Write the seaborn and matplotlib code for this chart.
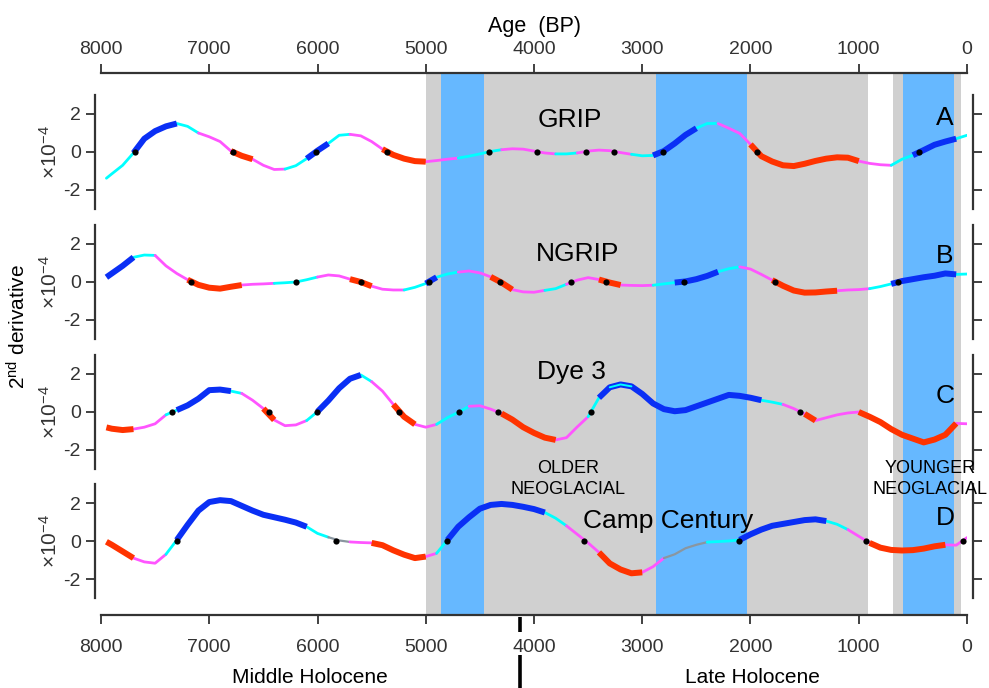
import pandas as pd
import seaborn as sns
import matplotlib.pyplot as plt
from matplotlib.transforms import ScaledTranslation

# sampling grid (years BP) shared by the four records
AGE = [7950] + list(range(7900, -1, -100))

GRIP = [-1.38, -1.15, -0.7, -0.05, 0.7, 1.1, 1.35, 1.5, 1.35, 1.0,
        0.8, 0.55, 0.05, -0.2, -0.38, -0.7, -0.92, -0.9, -0.72, -0.35,
        0.07, 0.45, 0.88, 0.93, 0.85, 0.55, 0.15, -0.15, -0.35, -0.48,
        -0.51, -0.45, -0.38, -0.32, -0.22, -0.1, 0.03, 0.12, 0.17, 0.15,
        0.05, -0.05, -0.1, -0.1, -0.05, 0.05, 0.1, 0.07, -0.03, -0.12,
        -0.2, -0.18, 0.05, 0.45, 0.9, 1.25, 1.5, 1.5, 1.25, 0.98,
        0.4, -0.22, -0.5, -0.7, -0.74, -0.62, -0.47, -0.35, -0.28, -0.3,
        -0.48, -0.6, -0.67, -0.7, -0.38, -0.17, 0.1, 0.38, 0.55, 0.7,
        0.88]
NGRIP = [0.25, 0.45, 0.85, 1.3, 1.42, 1.4, 0.85, 0.45, 0.12, -0.15,
         -0.3, -0.35, -0.25, -0.16, -0.12, -0.1, -0.07, -0.04, 0.0, 0.12,
         0.26, 0.37, 0.32, 0.15, 0.0, -0.22, -0.38, -0.42, -0.42, -0.28,
         -0.08, 0.25, 0.42, 0.52, 0.58, 0.48, 0.27, -0.03, -0.4, -0.52,
         -0.54, -0.44, -0.35, -0.12, 0.1, 0.23, 0.13, -0.03, -0.16, -0.18,
         -0.19, -0.17, -0.1, -0.03, 0.03, 0.15, 0.32, 0.54, 0.7, 0.8,
         0.68, 0.4, 0.1, -0.2, -0.45, -0.56, -0.55, -0.5, -0.46, -0.42,
         -0.4, -0.35, -0.24, -0.1, 0.05, 0.15, 0.25, 0.33, 0.45, 0.4,
         0.42]
DYE3 = [-0.81, -0.88, -0.95, -0.9, -0.8, -0.62, -0.15, 0.1, 0.35, 0.7,
        1.15, 1.18, 1.1, 0.98, 0.62, 0.18, -0.42, -0.72, -0.68, -0.45,
        0.02, 0.6, 1.25, 1.75, 1.95, 1.6, 1.1, 0.4, -0.25, -0.65,
        -0.8, -0.65, -0.3, -0.02, 0.3, 0.33, 0.15, -0.08, -0.4, -0.8,
        -1.1, -1.35, -1.47, -1.35, -0.78, -0.25, 0.75, 1.3, 1.45, 1.35,
        0.95, 0.45, 0.15, 0.04, 0.1, 0.3, 0.5, 0.7, 0.9, 0.85,
        0.75, 0.62, 0.52, 0.4, 0.18, -0.1, -0.45, -0.3, -0.15, -0.05,
        0.0, -0.25, -0.53, -0.9, -1.2, -1.4, -1.6, -1.45, -1.2, -0.6,
        -0.62]
CAMP = [-0.04, -0.2, -0.55, -0.9, -1.1, -1.17, -0.7, 0.05, 0.85, 1.6,
        2.05, 2.15, 2.1, 1.85, 1.6, 1.38, 1.25, 1.12, 0.97, 0.75,
        0.4, 0.2, 0.03, -0.05, -0.08, -0.1, -0.22, -0.49, -0.72, -0.9,
        -0.82, -0.65, 0.05, 0.75, 1.25, 1.7, 1.9, 1.95, 1.9, 1.8,
        1.68, 1.5, 1.2, 0.8, 0.35, -0.1, -0.6, -1.18, -1.5, -1.7,
        -1.65, -1.35, -0.9, -0.7, -0.38, -0.2, -0.06, -0.03, 0.0, 0.06,
        0.35, 0.6, 0.8, 0.9, 1.0, 1.1, 1.14, 1.05, 0.88, 0.6,
        0.25, -0.1, -0.35, -0.47, -0.5, -0.48, -0.4, -0.28, -0.2, -0.22,
        0.18]

# colour classes along each curve: (from age, to age, class)
SEG_GRIP = [(7950, 7700, 'c'), (7700, 7300, 'B'), (7300, 7100, 'c'), (7100, 6800, 'm'),
            (6800, 6600, 'R'), (6600, 6300, 'm'), (6300, 6100, 'c'), (6100, 5900, 'B'),
            (5900, 5700, 'c'), (5700, 5400, 'm'), (5400, 5000, 'R'), (5000, 4700, 'm'),
            (4700, 4300, 'c'), (4300, 3800, 'm'), (3800, 3600, 'c'), (3600, 3100, 'm'),
            (3100, 2900, 'c'), (2900, 2500, 'B'), (2500, 2300, 'c'), (2300, 2000, 'm'),
            (2000, 1000, 'R'), (1000, 700, 'm'), (700, 500, 'c'), (500, 100, 'B'),
            (100, 0, 'c')]
SEG_NGRIP = [(7950, 7700, 'B'), (7700, 7500, 'c'), (7500, 7200, 'm'), (7200, 6700, 'R'),
             (6700, 6400, 'm'), (6400, 6000, 'c'), (6000, 5700, 'm'), (5700, 5500, 'R'),
             (5500, 5200, 'm'), (5200, 5000, 'c'), (5000, 4900, 'B'), (4900, 4700, 'c'),
             (4700, 4400, 'm'), (4400, 4200, 'R'), (4200, 3900, 'm'), (3900, 3700, 'c'),
             (3700, 3400, 'm'), (3400, 3200, 'R'), (3200, 2900, 'm'), (2900, 2700, 'c'),
             (2700, 2300, 'B'), (2300, 2100, 'c'), (2100, 1800, 'm'), (1800, 1200, 'R'),
             (1200, 900, 'm'), (900, 700, 'c'), (700, 100, 'B'), (100, 0, 'c')]
SEG_DYE3 = [(7950, 7700, 'R'), (7700, 7400, 'm'), (7400, 7300, 'c'), (7300, 6800, 'B'),
            (6800, 6700, 'c'), (6700, 6500, 'm'), (6500, 6400, 'R'), (6400, 6100, 'm'),
            (6100, 6000, 'c'), (6000, 5600, 'B'), (5600, 5500, 'c'), (5500, 5300, 'm'),
            (5300, 5100, 'R'), (5100, 4900, 'm'), (4900, 4600, 'c'), (4600, 4300, 'm'),
            (4300, 3800, 'R'), (3800, 3500, 'm'), (3500, 3400, 'c'), (3400, 1900, 'B'),
            (1900, 1700, 'c'), (1700, 1500, 'm'), (1500, 1400, 'R'), (1400, 1000, 'm'),
            (1000, 100, 'R'), (100, 0, 'm')]
SEG_CAMP = [(7950, 7700, 'R'), (7700, 7400, 'm'), (7400, 7300, 'c'), (7300, 6100, 'B'),
            (6100, 5900, 'c'), (5900, 5700, 'g'), (5700, 5500, 'm'), (5500, 5000, 'R'),
            (5000, 4900, 'm'), (4900, 4800, 'c'), (4800, 3900, 'B'), (3900, 3700, 'c'),
            (3700, 3400, 'm'), (3400, 3000, 'R'), (3000, 2800, 'm'), (2800, 2400, 'g'),
            (2400, 2100, 'c'), (2100, 1300, 'B'), (1300, 1100, 'c'), (1100, 900, 'm'),
            (900, 200, 'R'), (200, 0, 'm')]

# zero crossings marked with dots
DOT_GRIP = [7690, 6785, 6015, 5355, 4420, 3975, 3520, 3258, 2810, 1937, 440]
DOT_NGRIP = [7170, 6200, 5600, 4970, 4315, 3660, 3335, 2615, 1775, 635]
DOT_DYE3 = [7340, 6450, 6005, 5250, 4690, 4330, 3475, 1540]
DOT_CAMP = [7300, 5830, 4800, 3535, 2105, 935, 35]

GRAY_SPANS = [(5000, 915), (685, 55)]
BLUE_SPANS = [(4860, 4460), (2870, 2030), (590, 120)]
XTICKS = [8000, 7000, 6000, 5000, 4000, 3000, 2000, 1000, 0]
YTICKS = [-2, 0, 2]

NAMES = ['GRIP', 'NGRIP', 'Dye 3', 'Camp Century']
LETTERS = ['A', 'B', 'C', 'D']

sns.set_theme(style='white')
plt.rcParams['font.family'] = ['Liberation Sans', 'DejaVu Sans']
plt.rcParams['mathtext.default'] = 'regular'
plt.rcParams['axes.unicode_minus'] = False
plt.rcParams['text.color'] = 'black'

W, H = 989, 688
fig = plt.figure(figsize=(W / 100, H / 100), dpi=100)


def fx(px):
    return px / W


def fy(py):
    return 1 - py / H


DARK = '#333333'
STYLE = {'B': ('#0a2ff5', 4.3), 'R': ('#ff3300', 4.3),
         'c': ('#00ffff', 2.0), 'm': ('#ff55ff', 2.0), 'g': ('#8a96a0', 1.6)}

# background axis: shading plus top and bottom age axes
axb = fig.add_axes([fx(101), fy(615), fx(967 - 101), (615 - 73) / H])
axb.set_xlim(8000, 0)
axb.set_ylim(0, 1)
for a0, a1 in GRAY_SPANS:
    axb.axvspan(a0, a1, color='#d0d0d0', lw=0)
for a0, a1 in BLUE_SPANS:
    axb.axvspan(a0, a1, color='#66b8ff', lw=0)
axb.set_yticks([])
axb.spines[['left', 'right']].set_visible(False)
for s in ['top', 'bottom']:
    axb.spines[s].set_linewidth(1.6)
    axb.spines[s].set_color(DARK)
axb.set_xticks(XTICKS)
axb.set_xticklabels([str(t) for t in XTICKS])
axb.tick_params(axis='x', top=True, labeltop=True, bottom=True, labelbottom=True,
                direction='out', length=6.5, width=1.3, colors=DARK,
                labelsize=14, pad=4)
axb.xaxis.set_label_position('top')
axb.set_xlabel('Age  (BP)', fontsize=15.5, labelpad=7, color='black')

# bottom labels sit a bit lower than the top ones
shift = ScaledTranslation(0, -7 / 72, fig.dpi_scale_trans)
for t in axb.xaxis.get_major_ticks():
    t.label1.set_transform(t.label1.get_transform() + shift)

# Middle / Late Holocene divider
tr = axb.get_xaxis_transform()
axb.plot([4130, 4130], [-0.004, -0.031], transform=tr, clip_on=False,
         color='black', lw=2.6, solid_capstyle='butt')
axb.plot([4130, 4130], [-0.074, -0.14], transform=tr, clip_on=False,
         color='black', lw=2.6, solid_capstyle='butt')
fig.text(fx(310), fy(683), 'Middle Holocene', ha='center', va='baseline', fontsize=15)
fig.text(fx(752), fy(683), 'Late Holocene', ha='center', va='baseline', fontsize=15)

records = [(GRIP, SEG_GRIP, DOT_GRIP), (NGRIP, SEG_NGRIP, DOT_NGRIP),
           (DYE3, SEG_DYE3, DOT_DYE3), (CAMP, SEG_CAMP, DOT_CAMP)]
zero_px = [152, 282, 412, 541]
name_pos = [(3667, 1.3), (3594, 1.1), (3658, 1.74), (2762, 0.68)]
letter_y = [1.42, 1.0, 0.47, 0.84]

for i, (vals, segs, dots) in enumerate(records):
    y0 = zero_px[i]
    ax = fig.add_axes([fx(101), fy(y0 + 57), fx(967 - 101), 114 / H])
    ax.set_facecolor('none')
    df = pd.DataFrame({'age': AGE, 'value': vals})
    for thick in (False, True):
        for a0, a1, k in segs:
            if (k in 'BR') != thick:
                continue
            sub = df[(df['age'] <= a0) & (df['age'] >= a1)]
            col, lw = STYLE[k]
            sns.lineplot(data=sub, x='age', y='value', color=col, linewidth=lw,
                         ax=ax, sort=False, estimator=None,
                         solid_capstyle='butt' if thick else 'round')
    # thin highlight riding on the Dye 3 peak
    if i == 2:
        sub = df[(df['age'] <= 3300) & (df['age'] >= 3100)]
        sns.lineplot(data=sub, x='age', y='value', color='#00ffff', linewidth=1.4,
                     ax=ax, sort=False, estimator=None)
    sns.scatterplot(x=dots, y=[0] * len(dots), color='black', s=20,
                    linewidth=0, ax=ax, zorder=5)
    ax.set(xlabel='', ylabel='')
    ax.set_xlim(8000, 0)
    ax.set_ylim(-3, 3)
    ax.set_xticks([])
    ax.spines[['top', 'bottom']].set_visible(False)
    ax.spines['left'].set_position(('outward', 4))
    ax.spines['right'].set_position(('outward', 4.5))
    for s in ['left', 'right']:
        ax.spines[s].set_visible(True)
        ax.spines[s].set_color(DARK)
        ax.spines[s].set_linewidth(1.6)
    ax.set_yticks(YTICKS)
    ax.set_yticklabels([str(t) for t in YTICKS])
    ax.tick_params(axis='y', left=True, right=True, labelleft=True, labelright=False,
                   direction='out', length=6.5, width=1.3, colors=DARK,
                   labelsize=14, pad=4)
    nx, ny = name_pos[i]
    ax.text(nx, ny, NAMES[i], ha='center', va='baseline', fontsize=19)
    ax.text(203, letter_y[i], LETTERS[i], ha='center', va='baseline', fontsize=19)
    fig.text(fx(50), fy(y0), r'$\times10^{-4}$', rotation=90, ha='center',
             va='center', fontsize=15, color=DARK)

fig.text(fx(18), fy(327), r'$2^{nd}$ derivative', rotation=90, ha='center',
         va='center', fontsize=15)

for cx in (568, 930):
    word = 'OLDER' if cx == 568 else 'YOUNGER'
    fig.text(fx(cx), fy(473), word, ha='center', va='baseline', fontsize=13)
    fig.text(fx(cx), fy(493.6), 'NEOGLACIAL', ha='center', va='baseline', fontsize=13)

fig.savefig('out.png', dpi=100)
